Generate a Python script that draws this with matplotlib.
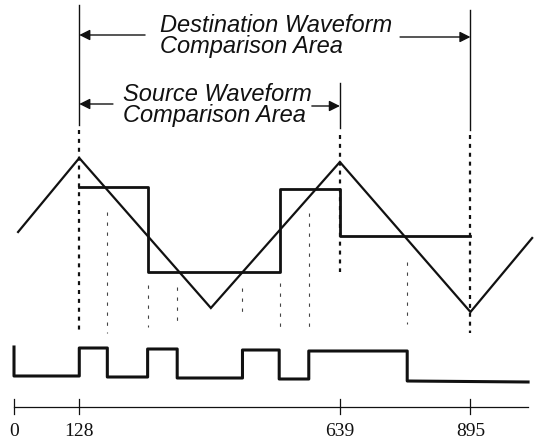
import matplotlib
matplotlib.use("Agg")
import matplotlib.pyplot as plt

# x positions are in samples, y is a drawing level (pixels from the top)
tri_x = [8, 128, 386, 639, 895, 1016]
tri_y = [232, 158, 308, 162, 312, 238]

src_x = [128, 262, 262, 521, 521, 639, 639, 895]
src_y = [187, 187, 272, 272, 189, 189, 236, 236]

cmp_x = [0, 0, 128, 128, 183, 183, 262, 262, 320, 320, 448, 448, 520, 520, 578, 578, 771, 771, 1008]
cmp_y = [347, 376, 376, 348, 348, 377, 377, 349, 349, 378, 378, 350, 350, 379, 379, 351, 351, 381, 382]

marks = [0, 128, 639, 895]
mark_labels = ["0", "128", "639", "895"]

# crossing guides (x, top, bottom)
guides = [(183, 212, 333), (262, 285, 327), (320, 287, 327), (448, 288, 316),
          (521, 283, 328), (578, 213, 333), (771, 262, 324)]

px0 = 14
scale = 0.51

fig = plt.figure(figsize=(5.38, 4.45), dpi=100)
ax = fig.add_axes([0, 0, 1, 1])
ax.set_xlim(-px0 / scale, (538 - px0) / scale)
ax.set_ylim(445, 0)
ax.axis("off")

ink = "#111111"

# waveforms
ax.plot(tri_x, tri_y, color=ink, lw=1.6, solid_joinstyle="miter")
ax.plot(src_x, src_y, color=ink, lw=2.0)
ax.plot(cmp_x, cmp_y, color=ink, lw=2.2)

# solid markers at the top
ax.plot([128, 128], [5, 125], color=ink, lw=1.0)
ax.plot([639, 639], [83, 128], color=ink, lw=1.0)
ax.plot([895, 895], [10, 130], color=ink, lw=1.0)

# heavy dotted lines
ax.plot([128, 128], [130, 333], color=ink, lw=1.6, ls=(0, (1.8, 2.2)))
ax.plot([639, 639], [135, 272], color=ink, lw=1.6, ls=(0, (1.8, 2.2)))
ax.plot([895, 895], [135, 333], color=ink, lw=1.6, ls=(0, (1.8, 2.2)))

for gx, top, bot in guides:
    ax.plot([gx, gx], [top, bot], color="#444444", lw=0.8, ls=(0, (3, 6)))

# arrows
arrow = dict(arrowstyle="-|>", color=ink, lw=1.0, mutation_scale=16,
             shrinkA=0, shrinkB=0)
ax.annotate("", xy=(128, 35), xytext=(257, 35), arrowprops=arrow)
ax.annotate("", xy=(895, 37), xytext=(757, 37), arrowprops=arrow)
ax.annotate("", xy=(128, 104), xytext=(194, 104), arrowprops=arrow)
ax.annotate("", xy=(639, 106), xytext=(584, 106), arrowprops=arrow)

label_font = dict(family="Liberation Sans", style="italic", fontsize=17, color=ink)
ax.text(286, 36, "Destination Waveform\nComparison Area", ha="left", va="center",
        linespacing=0.9, **label_font)
ax.text(214, 105, "Source Waveform\nComparison Area", ha="left", va="center",
        linespacing=0.9, **label_font)

# sample axis
ax.plot([0, 1008], [407, 407], color=ink, lw=0.9)
for m, lab in zip(marks, mark_labels):
    ax.plot([m, m], [399, 414], color=ink, lw=0.9)
    ax.text(m, 432, lab, ha="center", va="center", family="Liberation Serif",
            fontsize=14, color=ink)

fig.savefig("out.png", dpi=100)
